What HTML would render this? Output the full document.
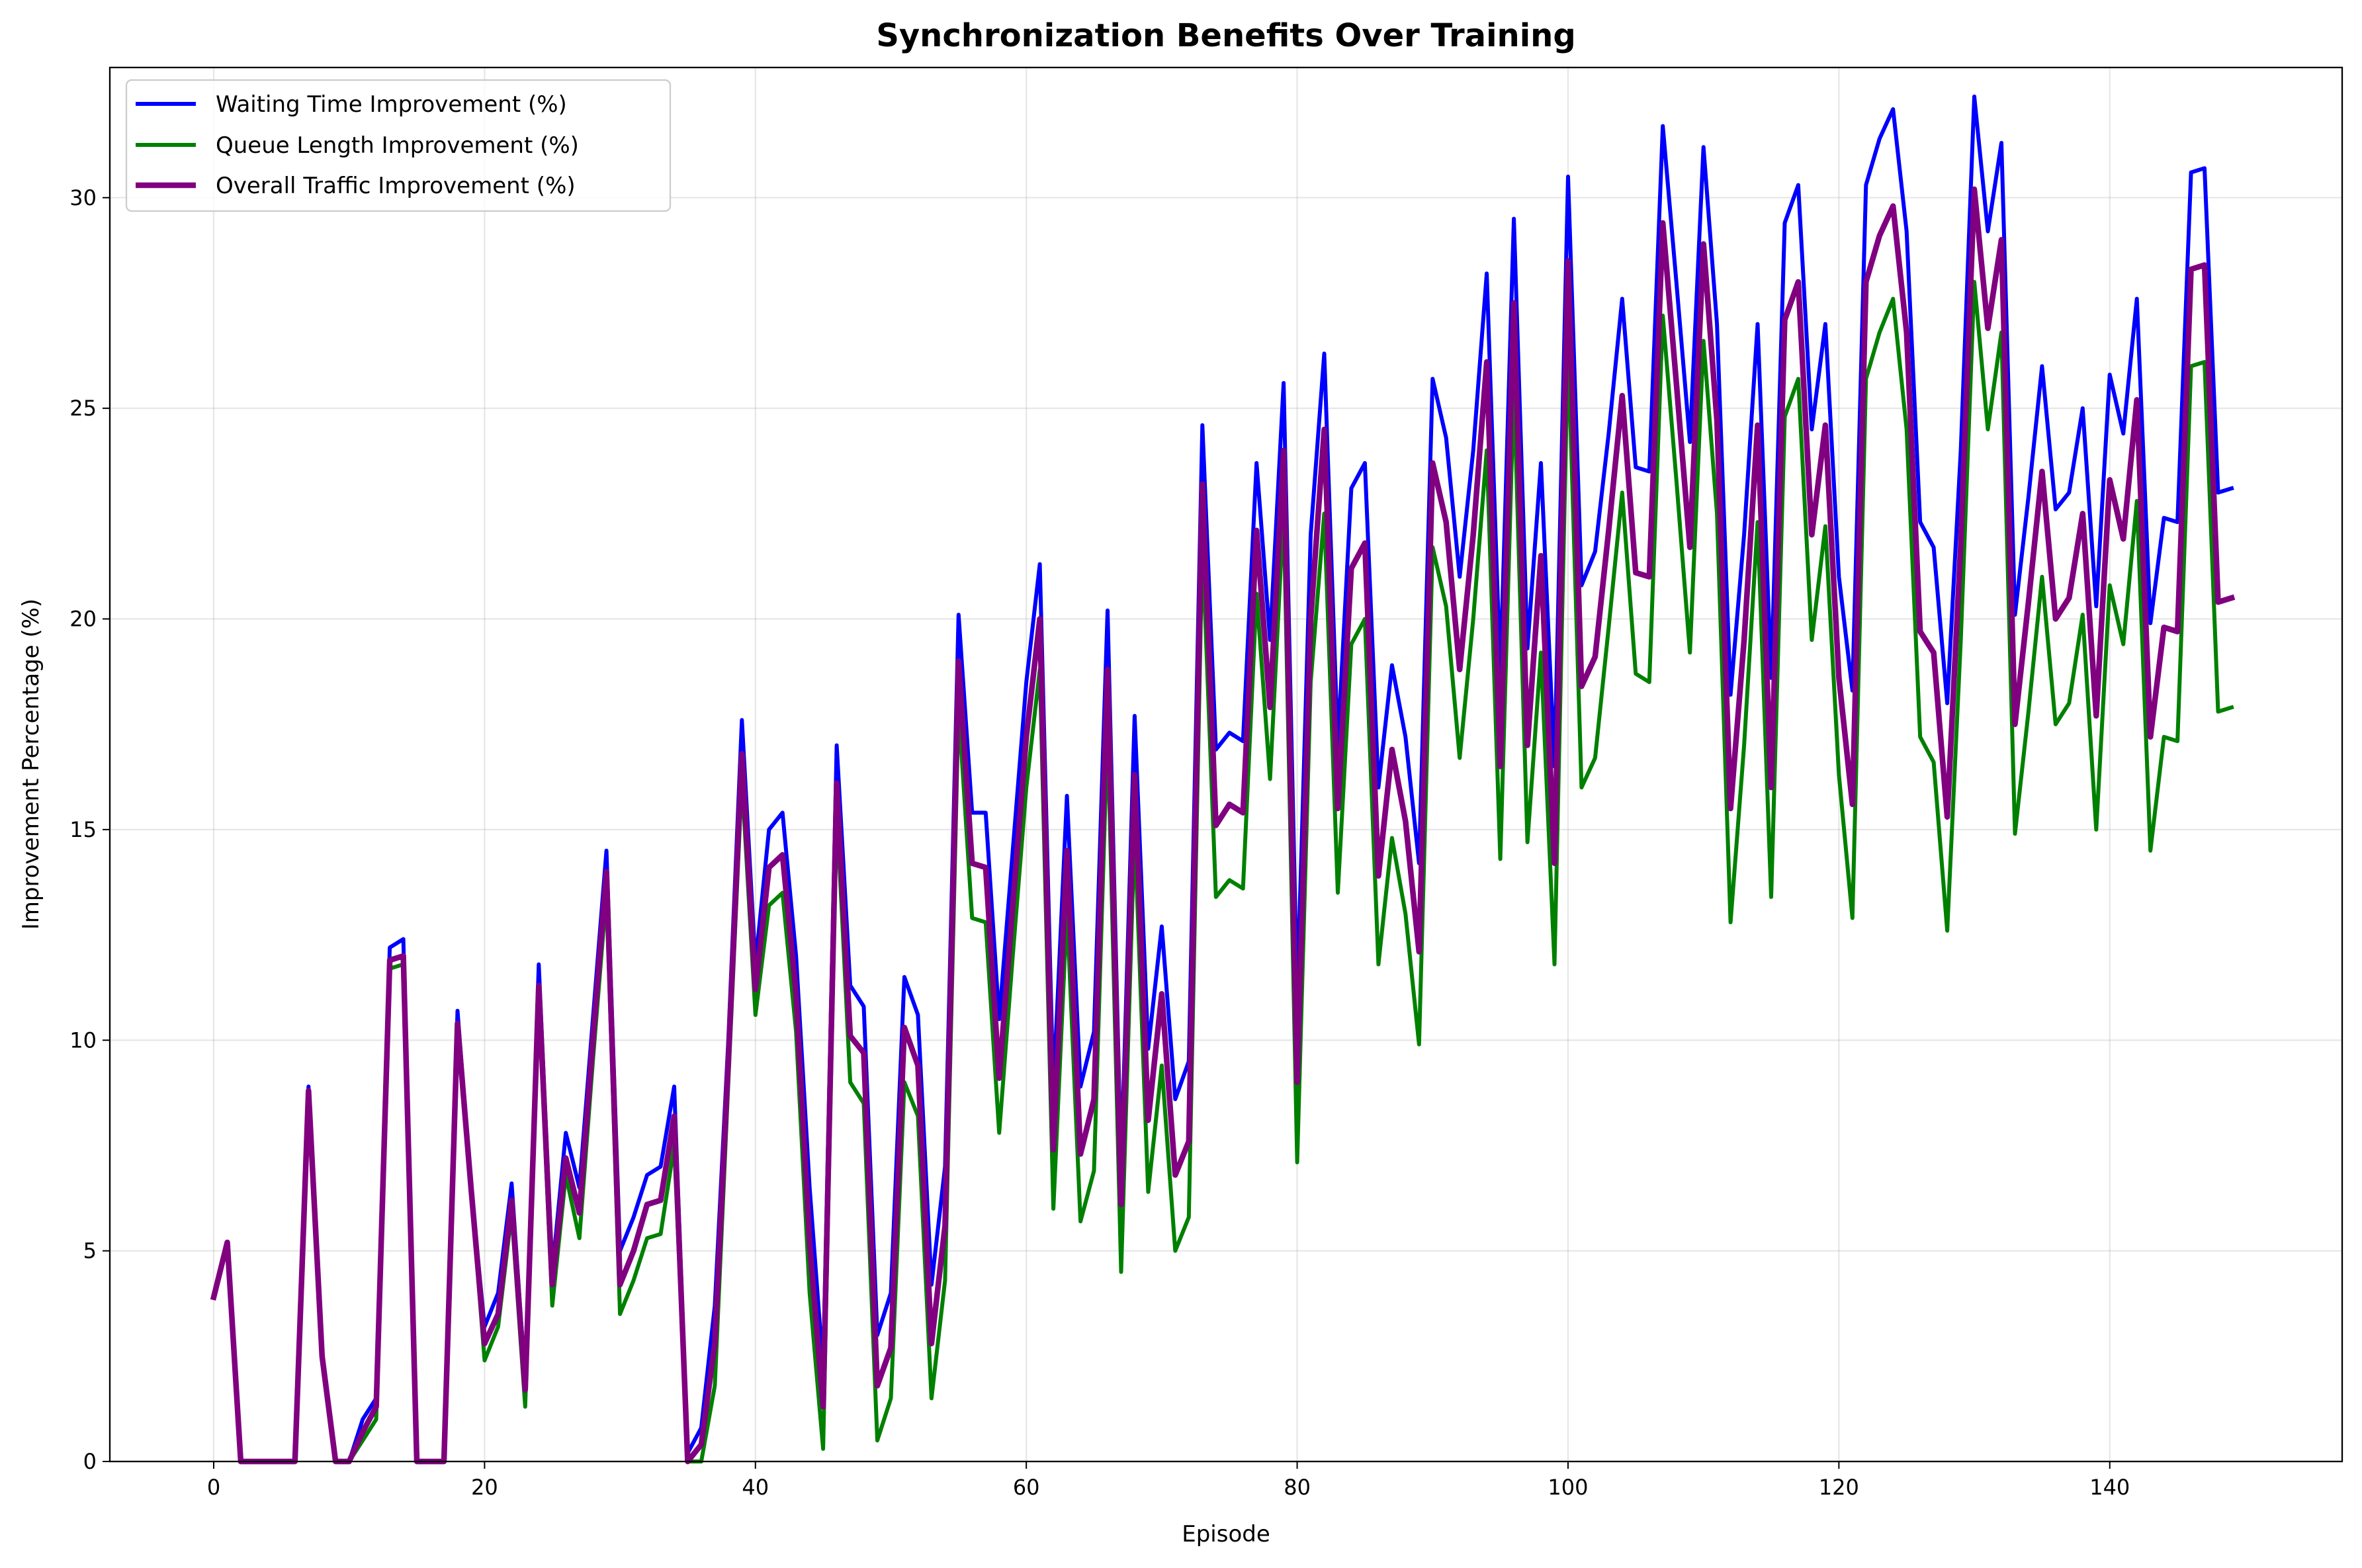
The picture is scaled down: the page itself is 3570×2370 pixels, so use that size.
<!DOCTYPE html>
<html><head><meta charset="utf-8"><style>
html,body{margin:0;padding:0;background:#fff;}
svg{display:block;font-family:"DejaVu Sans","Liberation Sans",sans-serif;}
</style></head><body>
<svg id="chart" width="3570" height="2370" viewBox="0 0 3570 2370" xmlns="http://www.w3.org/2000/svg">
<rect width="3570" height="2370" fill="#fff"/>
<text x="1853" y="70" text-anchor="middle" font-size="48" font-weight="bold">Synchronization Benefits Over Training</text>
<g id="grid"></g>
<g id="series"></g>
<rect x="166" y="102" width="3374" height="2107" fill="none" stroke="#000" stroke-width="2.3"/>
<g id="axes"></g>
<text x="1853" y="2330" text-anchor="middle" font-size="34">Episode</text>
<text x="0" y="0" transform="translate(58,1155) rotate(-90)" text-anchor="middle" font-size="34">Improvement Percentage (%)</text>
<g>
<rect x="191" y="121" width="822" height="198" rx="8" fill="#fff" fill-opacity="0.8" stroke="#ccc" stroke-width="2.3"/>
<line x1="205" y1="157" x2="296" y2="157" stroke="#0000ff" stroke-width="6"/>
<text x="326" y="169" font-size="34">Waiting Time Improvement (%)</text>
<line x1="205" y1="219" x2="296" y2="219" stroke="#008000" stroke-width="6"/>
<text x="326" y="231" font-size="34">Queue Length Improvement (%)</text>
<line x1="205" y1="280" x2="296" y2="280" stroke="#800080" stroke-width="8.5"/>
<text x="326" y="292" font-size="34">Overall Traffic Improvement (%)</text>
</g>
</svg>
<script>
const waiting=[3.9,5.2,0,0,0,0,0,8.9,2.5,0,0,1.0,1.5,12.2,12.4,0,0,0,10.7,6.5,3.2,4.0,6.6,1.9,11.8,4.5,7.8,6.5,10.5,14.5,5.0,5.8,6.8,7.0,8.9,0.2,0.8,3.7,10,17.6,11.8,15.0,15.4,12.0,6.5,2.2,17.0,11.3,10.8,3.0,4.0,11.5,10.6,4.2,7.0,20.1,15.4,15.4,10.5,14.5,18.5,21.3,8.8,15.8,8.9,10.2,20.2,7.0,17.7,9.8,12.7,8.6,9.5,24.6,16.9,17.3,17.1,23.7,19.5,25.6,11.0,22.0,26.3,17.0,23.1,23.7,16.0,18.9,17.2,14.2,25.7,24.3,21.0,24.0,28.2,18.7,29.5,19.3,23.7,16.5,30.5,20.8,21.6,24.4,27.6,23.6,23.5,31.7,28.0,24.2,31.2,27.0,18.2,22.0,27.0,18.6,29.4,30.3,24.5,27.0,21.0,18.3,30.3,31.4,32.1,29.2,22.3,21.7,18.0,24.0,32.4,29.2,31.3,20.1,22.9,26.0,22.6,23.0,25.0,20.3,25.8,24.4,27.6,19.9,22.4,22.3,30.6,30.7,23.0,23.1];
const queue=[3.9,5.2,0,0,0,0,0,8.7,2.5,0,0,0.5,1.0,11.7,11.8,0,0,0,10.3,6.5,2.4,3.2,5.9,1.3,11.0,3.7,6.8,5.3,9.5,13.5,3.5,4.3,5.3,5.4,7.5,0,0,1.8,9,16.2,10.6,13.2,13.5,10.2,4.0,0.3,15.5,9.0,8.5,0.5,1.5,9.0,8.2,1.5,4.3,17.9,12.9,12.8,7.8,12.0,16.0,18.8,6.0,13.1,5.7,6.9,17.4,4.5,15.0,6.4,9.4,5.0,5.8,21.8,13.4,13.8,13.6,20.6,16.2,22.6,7.1,18.5,22.5,13.5,19.4,20.0,11.8,14.8,13.0,9.9,21.7,20.3,16.7,20.0,24.0,14.3,25.5,14.7,19.2,11.8,26.5,16.0,16.7,19.8,23.0,18.7,18.5,27.2,23.3,19.2,26.6,22.5,12.8,17.0,22.3,13.4,24.8,25.7,19.5,22.2,16.3,12.9,25.7,26.8,27.6,24.5,17.2,16.6,12.6,19.5,28.0,24.5,26.8,14.9,17.8,21.0,17.5,18.0,20.1,15.0,20.8,19.4,22.8,14.5,17.2,17.1,26.0,26.1,17.8,17.9];
const overall=[3.9,5.2,0,0,0,0,0,8.8,2.5,0,0,0.7,1.3,11.9,12.0,0,0,0,10.4,6.5,2.8,3.5,6.2,1.7,11.3,4.2,7.2,5.9,10.0,14.0,4.2,5.0,6.1,6.2,8.2,0,0.4,2.8,9.5,16.8,11.2,14.1,14.4,11.1,5.2,1.3,16.1,10.1,9.7,1.8,2.7,10.3,9.4,2.8,5.6,19.0,14.2,14.1,9.1,13.2,17.2,20.0,7.4,14.5,7.3,8.6,18.8,6.1,16.3,8.1,11.1,6.8,7.6,23.2,15.1,15.6,15.4,22.1,17.9,24.0,9.0,20.0,24.5,15.5,21.2,21.8,13.9,16.9,15.2,12.1,23.7,22.3,18.8,22.0,26.1,16.5,27.5,17.0,21.5,14.2,28.5,18.4,19.1,22.1,25.3,21.1,21.0,29.4,25.6,21.7,28.9,24.7,15.5,19.5,24.6,16.0,27.1,28.0,22.0,24.6,18.6,15.6,28.0,29.1,29.8,26.8,19.7,19.2,15.3,21.8,30.2,26.9,29.0,17.5,20.4,23.5,20.0,20.5,22.5,17.7,23.3,21.9,25.2,17.2,19.8,19.7,28.3,28.4,20.4,20.5];
const xTicks=[0,20,40,60,80,100,120,140];
const yTicks=[0,5,10,15,20,25,30];

const PL=166,PR=3540,PT=102,PB=2209;
const XMIN=-7.67,XMAX=157.16;
const YMIN=0,YMAX=33.09;
function xs(v){return PL+(v-XMIN)/(XMAX-XMIN)*(PR-PL);}
function ys(v){return PB-(v-YMIN)/(YMAX-YMIN)*(PB-PT);}
const NS="http://www.w3.org/2000/svg";
function mk(tag,attrs,parent){const e=document.createElementNS(NS,tag);for(const k in attrs)e.setAttribute(k,attrs[k]);parent.appendChild(e);return e;}
const grid=document.getElementById('grid'),axes=document.getElementById('axes'),ser=document.getElementById('series');
xTicks.forEach(t=>{
  const x=xs(t);
  const g=mk('line',{x1:x,x2:x,y1:PT,y2:PB,stroke:'#b0b0b0','stroke-opacity':0.3,'stroke-width':2.3},grid);
  
  
  const tk=mk('line',{x1:x,x2:x,y1:PB,y2:PB+11,stroke:'#000','stroke-width':2},axes);
  
  
  const tx=mk('text',{x:x,y:PB+50,'text-anchor':'middle','font-size':32},axes);
  tx.textContent=t;
  
  
});
yTicks.forEach(t=>{
  const y=ys(t);
  const g=mk('line',{x1:PL,x2:PR,y1:y,y2:y,stroke:'#b0b0b0','stroke-opacity':0.3,'stroke-width':2.3},grid);
  
  
  const tk=mk('line',{x1:PL-11,x2:PL,y1:y,y2:y,stroke:'#000','stroke-width':2},axes);
  
  
  const tx=mk('text',{x:PL-20,y:y+11,'text-anchor':'end','font-size':32},axes);
  tx.textContent=t;
  
  
});
function line(arr,color,w,name){
  const pts=arr.map((v,i)=>xs(i).toFixed(1)+','+ys(v).toFixed(1)).join(' ');
  const p=mk('polyline',{points:pts,fill:'none',stroke:color,'stroke-width':w,'stroke-linejoin':'round','stroke-linecap':'square'},ser);
  
  
}
line(waiting,'#0000ff',6,'waiting-time-line');
line(queue,'#008000',6,'queue-length-line');
line(overall,'#800080',8.5,'overall-traffic-line');
</script>
</body></html>
